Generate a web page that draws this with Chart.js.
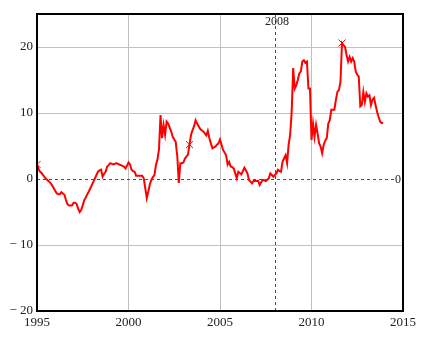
<!DOCTYPE html>
<html>
<head>
<meta charset="utf-8">
<script src="https://cdn.jsdelivr.net/npm/chart.js@4.4.0/dist/chart.umd.min.js"></script>
<style>
  html, body { margin: 0; padding: 0; background: #fff; }
  #wrap { width: 424px; height: 341px; }
</style>
</head>
<body>
<div id="wrap"><canvas id="chart" width="424" height="341"></canvas></div>
<script>
// ── Data: monthly values, Jan 1995 onward ──
const startYear = 1995;
const monthly = [
  2.2, 1.5, 1.1, 0.9, 0.6, 0.3, 0.0, -0.2, -0.4, -0.65, -1.0, -1.4,      // 1995
  -1.8, -2.2, -2.3, -2.3, -2.0, -2.2, -2.4, -3.2, -3.8, -4.0, -4.0, -4.0, // 1996
  -3.6, -3.6, -3.8, -4.5, -5.0, -4.7, -4.0, -3.2, -2.8, -2.3, -1.9, -1.4, // 1997
  -0.9, -0.4, 0.1, 0.6, 1.1, 1.3, 1.4, 0.35, 0.8, 1.1, 1.9, 2.1,         // 1998
  2.4, 2.3, 2.2, 2.3, 2.4, 2.3, 2.2, 2.1, 2.0, 1.9, 1.6, 2.0,            // 1999
  2.5, 2.2, 1.4, 1.2, 1.1, 0.5, 0.5, 0.5, 0.5, 0.5, 0.1, -1.4,           // 2000
  -2.9, -1.9, -0.8, -0.15, 0.3, 0.6, 2.1, 3.0, 4.5, 9.7, 6.2, 8.2,       // 2001
  6.7, 8.7, 8.4, 7.8, 7.2, 6.4, 6.0, 5.6, 3.4, -0.6, 2.4, 2.4,           // 2002
  2.5, 3.1, 3.4, 3.7, 5.2, 6.7, 7.4, 8.0, 8.9, 8.4, 8.0, 7.6,            // 2003
  7.4, 7.2, 6.9, 6.6, 7.3, 6.2, 5.4, 4.65, 4.8, 4.9, 5.2, 5.4,           // 2004
  6.0, 5.2, 4.4, 4.0, 3.6, 2.2, 2.6, 1.9, 1.8, 1.6, 0.85, 0.1,           // 2005
  1.1, 0.9, 0.7, 1.2, 1.7, 1.3, 0.85, -0.15, -0.4, -0.65, -0.3, -0.3,    // 2006
  -0.3, -0.3, -0.9, -0.5, -0.15, -0.2, -0.3, -0.1, 0.1, 0.85, 0.6, 0.35, // 2007
  0.6, 0.85, 1.4, 1.2, 1.1, 2.6, 3.1, 3.6, 2.4, 5.2, 6.7, 10.2,          // 2008
  16.8, 13.7, 14.2, 15.0, 16.0, 16.3, 17.8, 18.0, 17.6, 17.8, 13.7, 13.7, // 2009
  5.9, 8.4, 6.4, 8.2, 6.9, 5.4, 4.9, 3.9, 5.2, 5.8, 6.2, 8.4,            // 2010
  8.9, 10.5, 10.5, 10.5, 12.0, 13.2, 13.5, 14.7, 20.6, 20.3, 20.0, 18.8, // 2011
  17.8, 18.5, 17.8, 18.3, 17.8, 16.3, 15.8, 15.5, 11.0, 11.2, 13.2, 11.7, // 2012
  13.0, 12.5, 12.7, 11.2, 12.0, 12.3, 11.2, 10.2, 9.4, 8.7, 8.5, 8.5     // 2013
];
const markerMonths = [0, 100, 200];
const xTicks = [1995, 2000, 2005, 2010, 2015];
const yTicks = [-20, -10, 0, 10, 20];
const refYear = 2008;
const refValue = 0;

// ── Styles ──
const red = '#ff0000';
const gridGray = '#c0c0c0';
const textColor = '#222';
const serif = '"Liberation Serif", "DejaVu Serif", serif';

const points = monthly.map((v, i) => ({ x: startYear + i / 12, y: v }));
const markers = markerMonths.map(i => points[i]);

// ── Reference lines, frame and labels ──
const refPlugin = {
  id: 'refLines',
  beforeDatasetsDraw(chart) {
    const { ctx, chartArea: a, scales: { x, y } } = chart;
    const px = Math.round(x.getPixelForValue(refYear)) + 0.5;
    const py = Math.round(y.getPixelForValue(refValue)) + 0.5;
    ctx.save();
    ctx.strokeStyle = red;
    ctx.lineWidth = 1;
    ctx.setLineDash([3, 3]);
    ctx.beginPath();
    ctx.moveTo(a.left, py); ctx.lineTo(a.right - 8, py);
    ctx.moveTo(px, a.top); ctx.lineTo(px, a.bottom);
    ctx.stroke();
    ctx.restore();
  },
  afterDraw(chart) {
    const { ctx, chartArea: a, scales: { x, y } } = chart;
    ctx.save();
    ctx.strokeStyle = '#000';
    ctx.lineWidth = 2;
    ctx.strokeRect(a.left, a.top, a.right - a.left, a.bottom - a.top);
    ctx.fillStyle = textColor;
    ctx.font = '12px ' + serif;
    ctx.textAlign = 'center';
    ctx.textBaseline = 'middle';
    ctx.fillText(String(refYear), x.getPixelForValue(refYear) + 2, a.top + 8);
    ctx.fillText(String(refValue), a.right - 5, y.getPixelForValue(refValue) + 1);
    ctx.restore();
  }
};

const edgeGrid = (ctx, edges) => edges.includes(ctx.tick && ctx.tick.value) ? 'rgba(0,0,0,0)' : gridGray;

new Chart(document.getElementById('chart'), {
  type: 'line',
  data: {
    datasets: [{
      data: points,
      borderColor: red, borderWidth: 2,
      pointRadius: 0, tension: 0, fill: false,
    }, {
      data: markers,
      showLine: false,
      pointStyle: 'crossRot', pointRadius: 5,
      pointBorderColor: red, pointBorderWidth: 1,
    }]
  },
  options: {
    responsive: false, animation: false,
    layout: { padding: { top: 14, right: 21, left: 0, bottom: 0 } },
    plugins: { legend: { display: false }, tooltip: { enabled: false } },
    scales: {
      x: {
        type: 'linear', min: 1995, max: 2015,
        afterBuildTicks: s => { s.ticks = xTicks.map(v => ({ value: v })); },
        afterFit: s => { s.height = 30; },
        grid: { color: c => edgeGrid(c, [1995, 2015]), drawTicks: false, lineWidth: 1 },
        border: { display: false },
        ticks: { color: textColor, font: { family: serif, size: 13 }, padding: 4, maxRotation: 0,
          callback: v => String(v) },
      },
      y: {
        min: -20, max: 25,
        afterBuildTicks: s => { s.ticks = yTicks.map(v => ({ value: v })); },
        afterFit: s => { s.width = 37; },
        grid: { color: c => edgeGrid(c, [-20, 0]), drawTicks: false, lineWidth: 1 },
        border: { display: false },
        ticks: { color: textColor, font: { family: serif, size: 13 }, padding: 4,
          callback: v => v < 0 ? '\u2212 ' + Math.abs(v) : String(v) },
      }
    }
  },
  plugins: [refPlugin]
});
</script>
</body>
</html>
